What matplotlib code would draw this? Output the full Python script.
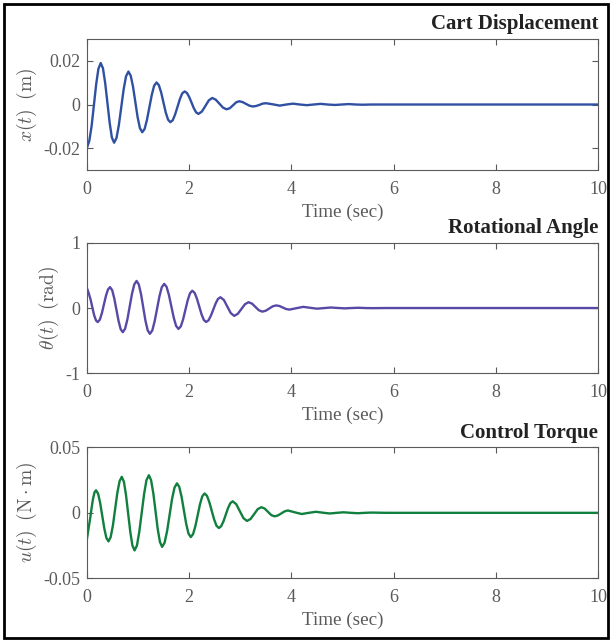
import numpy as np
import matplotlib
matplotlib.use('Agg')
import matplotlib.pyplot as plt
from matplotlib.patches import Rectangle

plt.rcParams['font.family'] = ['Liberation Serif', 'DejaVu Serif']
plt.rcParams['mathtext.fontset'] = 'cm'
plt.rcParams['axes.unicode_minus'] = False

# Cart displacement x(t) in m
x_time = [0.0, 0.045, 0.089, 0.134, 0.179, 0.223, 0.268,
          0.312, 0.355, 0.399, 0.443, 0.486, 0.53,
          0.577, 0.623, 0.67, 0.717, 0.763, 0.81,
          0.855, 0.90, 0.945, 0.99, 1.035, 1.08,
          1.127, 1.173, 1.22, 1.267, 1.313, 1.36,
          1.405, 1.45, 1.495, 1.54, 1.585, 1.63,
          1.677, 1.723, 1.77, 1.817, 1.863, 1.91,
          1.955, 2.0, 2.045, 2.09, 2.135, 2.18,
          2.248, 2.315, 2.383, 2.45,
          2.52, 2.59, 2.66, 2.73,
          2.793, 2.855, 2.918, 2.98,
          3.045, 3.11, 3.175, 3.24,
          3.305, 3.37, 3.435, 3.50,
          3.635, 3.77, 3.90, 4.03, 4.165, 4.30, 4.435, 4.57,
          4.71, 4.85, 4.985, 5.12, 5.26, 5.40, 5.55, 10.0]
x_disp = [-0.0197, -0.0166, -0.0100, -0.0004, 0.0093, 0.0164, 0.0190,
          0.0166, 0.0099, 0.0008, -0.0084, -0.0151, -0.0175,
          -0.0153, -0.0094, -0.0012, 0.0070, 0.0129, 0.0151,
          0.0132, 0.0082, 0.0012, -0.0058, -0.0108, -0.0127,
          -0.0112, -0.0070, -0.0013, 0.0044, 0.0086, 0.0101,
          0.0089, 0.0056, 0.0010, -0.0036, -0.0069, -0.0081,
          -0.0072, -0.0046, -0.0011, 0.0025, 0.0051, 0.0060,
          0.0053, 0.0034, 0.0009, -0.0017, -0.0036, -0.0043,
          -0.0032, -0.0007, 0.0019, 0.0030,
          0.0022, 0.0004, -0.0014, -0.0022,
          -0.0017, -0.0004, 0.0010, 0.0015,
          0.0011, 0.0003, -0.0005, -0.0009,
          -0.0007, -0.0002, 0.0004, 0.0006,
          0.0001, -0.0005, 0.0, 0.0004, 0.0, -0.0003, 0.0, 0.0003,
          0.0, -0.0002, 0.0, 0.0002, 0.0, -0.0001, 0.0, 0.0]

# Rotational angle theta(t) in rad
theta_time = [0.0, 0.035, 0.07, 0.105, 0.14, 0.175, 0.21,
              0.25, 0.29, 0.33, 0.37, 0.41, 0.45,
              0.492, 0.533, 0.575, 0.617, 0.658, 0.70,
              0.745, 0.79, 0.835, 0.88, 0.925, 0.97,
              1.013, 1.057, 1.10, 1.143, 1.187, 1.23,
              1.277, 1.323, 1.37, 1.417, 1.463, 1.51,
              1.557, 1.603, 1.65, 1.697, 1.743, 1.79,
              1.835, 1.88, 1.925, 1.97, 2.015, 2.06,
              2.105, 2.15, 2.195, 2.24, 2.285, 2.33,
              2.377, 2.423, 2.47, 2.517, 2.563, 2.61,
              2.678, 2.745, 2.813, 2.88,
              2.95, 3.02, 3.09, 3.16,
              3.228, 3.295, 3.363, 3.43,
              3.498, 3.565, 3.633, 3.70,
              3.765, 3.83, 3.895, 3.96,
              4.095, 4.23, 4.365, 4.50, 4.635, 4.77, 4.905, 5.04,
              5.175, 5.31, 5.445, 5.58, 5.85, 10.0]
theta_angle = [0.30, 0.223, 0.130, 0.006, -0.112, -0.189, -0.215,
               -0.179, -0.081, 0.053, 0.186, 0.284, 0.32,
               0.274, 0.148, -0.025, -0.198, -0.324, -0.37,
               -0.317, -0.174, 0.023, 0.219, 0.362, 0.415,
               0.361, 0.213, 0.010, -0.193, -0.341, -0.395,
               -0.344, -0.204, -0.013, 0.179, 0.319, 0.37,
               0.324, 0.198, 0.025, -0.148, -0.274, -0.32,
               -0.281, -0.174, -0.028, 0.119, 0.226, 0.265,
               0.233, 0.145, 0.026, -0.094, -0.182, -0.214,
               -0.189, -0.119, -0.025, 0.070, 0.140, 0.165,
               0.123, 0.023, -0.078, -0.12,
               -0.089, -0.016, 0.058, 0.089,
               0.068, 0.017, -0.034, -0.055,
               -0.041, -0.008, 0.026, 0.04,
               0.031, 0.008, -0.015, -0.024,
               -0.003, 0.018, 0.004, -0.010, -0.001, 0.008, 0.001, -0.005,
               0.0, 0.004, 0.0, -0.002, 0.0, 0.0]

# Control torque u(t) in N*m
u_time = [0.0, 0.029, 0.059, 0.088, 0.117, 0.147, 0.176,
          0.217, 0.257, 0.298, 0.339, 0.379, 0.42,
          0.463, 0.507, 0.55, 0.593, 0.637, 0.68,
          0.722, 0.763, 0.805, 0.847, 0.888, 0.93,
          0.977, 1.023, 1.07, 1.117, 1.163, 1.21,
          1.253, 1.297, 1.34, 1.383, 1.427, 1.47,
          1.518, 1.567, 1.615, 1.663, 1.712, 1.76,
          1.805, 1.85, 1.895, 1.94, 1.985, 2.03,
          2.075, 2.12, 2.165, 2.21, 2.255, 2.30,
          2.347, 2.393, 2.44, 2.487, 2.533, 2.58,
          2.625, 2.67, 2.715, 2.76, 2.805, 2.85,
          2.92, 2.99, 3.06, 3.13,
          3.20, 3.27, 3.34, 3.41,
          3.475, 3.54, 3.605, 3.67,
          3.735, 3.80, 3.865, 3.93,
          4.065, 4.20, 4.34, 4.48, 4.615, 4.75, 4.885, 5.02,
          5.16, 5.30, 5.435, 5.57, 5.85, 10.0]
u_torque = [-0.0195, -0.0122, -0.0048, 0.0033, 0.0106, 0.0157, 0.0172,
            0.0146, 0.0075, -0.0023, -0.0121, -0.0192, -0.0218,
            -0.0185, -0.0095, 0.0029, 0.0152, 0.0242, 0.0275,
            0.0237, 0.0135, -0.0006, -0.0147, -0.0249, -0.0287,
            -0.0249, -0.0144, 0.0, 0.0144, 0.0249, 0.0287,
            0.0250, 0.0150, 0.0014, -0.0123, -0.0223, -0.026,
            -0.0228, -0.0139, -0.0018, 0.0104, 0.0193, 0.0225,
            0.0198, 0.0123, 0.0020, -0.0083, -0.0158, -0.0185,
            -0.0163, -0.0102, -0.0019, 0.0065, 0.0126, 0.0148,
            0.0130, 0.0082, 0.0016, -0.0050, -0.0098, -0.0116,
            -0.0102, -0.0065, -0.0014, 0.0037, 0.0074, 0.0088,
            0.0066, 0.0013, -0.0040, -0.0062,
            -0.0047, -0.0010, 0.0028, 0.0043,
            0.0033, 0.0008, -0.0017, -0.0027,
            -0.0020, -0.0005, 0.0011, 0.0018,
            0.0004, -0.0009, 0.0, 0.0008, 0.0001, -0.0005, 0.0, 0.0004,
            0.0, -0.0003, 0.0, 0.0002, 0.0, 0.0]

titles = ['Cart Displacement', 'Rotational Angle', 'Control Torque']
ylabels = [r'$x(t)\;\;\mathrm{(m)}$', r'$\theta(t)\;\;\mathrm{(rad)}$',
           r'$u(t)\;\;\mathrm{(N\cdot m)}$']
yticks = [[-0.02, 0, 0.02], [-1, 0, 1], [-0.05, 0, 0.05]]
yticklabels = [['-0.02', '0', '0.02'], ['-1', '0', '1'], ['-0.05', '0', '0.05']]
ylims = [(-0.03, 0.03), (-1, 1), (-0.05, 0.05)]
xticks = [0, 2, 4, 6, 8, 10]

colors = ['#3050A2', '#5A48A6', '#11803F']
grey = '#5a5a5a'

fig = plt.figure(figsize=(6.12, 6.42), dpi=100)
# axes boxes in figure fractions (left, bottom, width, height)
boxes = [[0.1422, 0.7352, 0.835, 0.2040],
         [0.1422, 0.4185, 0.835, 0.2034],
         [0.1422, 0.0992, 0.835, 0.2040]]
series = [(x_time, x_disp), (theta_time, theta_angle), (u_time, u_torque)]

for i in range(3):
    ax = fig.add_axes(boxes[i])
    t, y = series[i]
    ax.plot(t, y, color=colors[i], lw=1.7)
    ax.set_xlim(0, 10)
    ax.set_ylim(ylims[i])
    ax.set_xticks(xticks)
    ax.set_yticks(yticks[i])
    ax.set_yticklabels(yticklabels[i])
    ax.tick_params(direction='in', top=True, right=True, length=4, width=0.8,
                   colors=grey, labelsize=13)
    ax.tick_params(axis='x', pad=8)
    ax.tick_params(axis='y', pad=5)
    for s in ax.spines.values():
        s.set_color(grey)
        s.set_linewidth(0.8)
    ax.set_xlabel('Time (sec)', fontsize=13.8, color=grey, labelpad=4)
    ax.set_ylabel(ylabels[i], fontsize=14, color=grey, labelpad=3)
    ax.set_title(titles[i], loc='right', fontsize=15, fontweight='bold',
                 color='#222222', pad=7)

# black frame around the whole figure
fig.patches.append(Rectangle((0.006, 0.006), 0.988, 0.988, transform=fig.transFigure,
                             fill=False, edgecolor='black', linewidth=2))

fig.savefig('out.png', dpi=100)
